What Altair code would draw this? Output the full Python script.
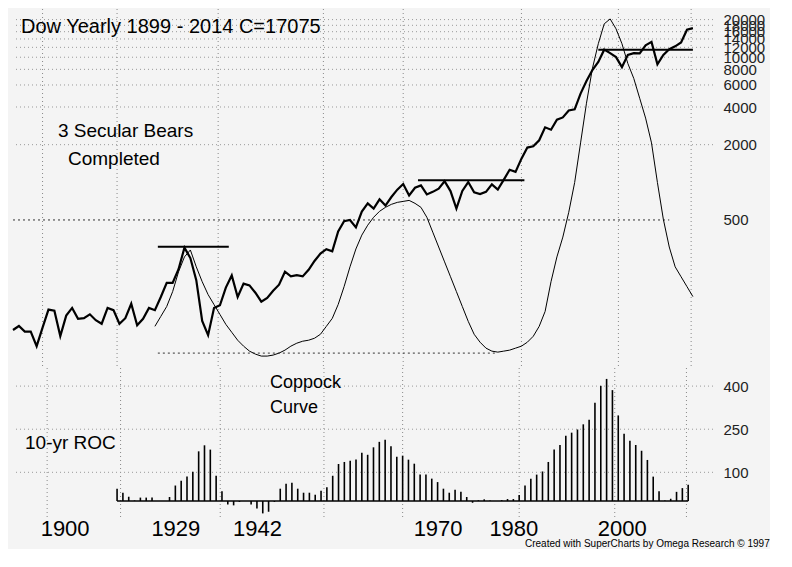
import altair as alt
import pandas as pd

FONT = "Liberation Sans"

# yearly Dow closes 1899-2014
dow_years = list(range(1899, 2015))
dow_close = [
    66, 71, 64, 64, 49, 69, 96, 94, 59, 86, 99, 81, 82, 88, 79, 74, 99, 95, 74, 82,
    107, 72, 81, 99, 95, 121, 157, 157, 202, 300, 248, 165, 78, 60, 99, 104, 144, 180,
    121, 155, 150, 131, 111, 119, 136, 152, 193, 177, 181, 177, 200, 235, 269, 292,
    281, 404, 488, 500, 436, 584, 679, 616, 731, 652, 763, 874, 969, 786, 905, 944,
    800, 839, 890, 1020, 851, 616, 852, 1005, 831, 805, 839, 964, 875, 1047, 1259,
    1212, 1547, 1896, 1939, 2169, 2753, 2634, 3169, 3301, 3754, 3834, 5117, 6448,
    7908, 9181, 11497, 10787, 10021, 8342, 10454, 10783, 10718, 12463, 13265, 8776,
    10428, 11578, 12218, 13104, 16577, 17075,
]

# Coppock curve (relative level, no axis)
cop_years = list(range(1923, 2015))
cop_level = [
    40, 50, 60, 75, 95, 110, 117, 100, 85, 72, 62, 52, 42, 34, 26, 20, 15, 12, 10, 10,
    11, 13, 16, 20, 23, 25, 26, 28, 32, 40, 48, 62, 80, 100, 118, 132, 142, 150, 156,
    160, 163, 165, 166, 167, 164, 160, 150, 135, 120, 105, 90, 75, 60, 45, 32, 24, 18,
    15, 14, 15, 16, 18, 20, 24, 30, 40, 55, 85, 110, 130, 155, 185, 225, 265, 300, 325, 345,
    350, 340, 325, 305, 290, 270, 250, 225, 185, 148, 120, 100, 90, 80, 70,
]

# 10-yr ROC bars
roc = [
    43, 29, 15, 2, 12, 12, 12, 0, 0, 14, 54, 71, 85, 102, 173, 194, 179, 88, 34, -12,
    -15, -3, 0, -12, -26, -43, -37, -3, 43, 60, 64, 43, 29, 29, 22, 36, 48, 88, 129,
    136, 140, 145, 168, 161, 187, 206, 213, 191, 154, 158, 144, 130, 92, 92, 78, 66,
    43, 29, 39, 32, 14, -6, 3, 6, 2, 0, 3, 7, 7, 21, 54, 78, 92, 103, 136, 179, 195,
    227, 238, 249, 267, 283, 342, 401, 425, 386, 298, 234, 210, 195, 175, 143, 85, 34,
    2, 8, 32, 45, 57,
]
roc_years = [2014 - len(roc) + 1 + i for i in range(len(roc))]

price_ticks = [500, 2000, 4000, 6000, 8000, 10000, 12000, 14000, 16000, 18000, 20000]
roc_ticks = [100, 250, 400]
grid_years = [1904, 1916.6, 1933.7, 1951.5, 1965, 1985, 2001.4, 2013.7]
label_pos = [1907, 1926, 1940, 1971, 1984, 2002.6]
label_txt = ["1900", "1929", "1942", "1970", "1980", "2000"]

# resistance / support lines
seg_start = [1923.5, 1967.5, 1998]
seg_end = [1935.5, 1985.5, 2014]
seg_price = [305, 1038, 11500]

dow = pd.DataFrame({"year": dow_years, "close": dow_close})
cop = pd.DataFrame({"year": cop_years, "level": cop_level})
bars = pd.DataFrame({"year": roc_years, "roc": roc})
segs = pd.DataFrame({"x": seg_start, "x2": seg_end, "p": seg_price})

xs = alt.Scale(domain=[1899, 2017.4], nice=False, zero=False)
ys = alt.Scale(type="log", domain=[34, 24300], nice=False)
cs = alt.Scale(domain=[0, 360], nice=False)
W, H1, H2 = 700, 357, 150
dots = [1, 3]

label_expr = " : ".join(
    f"abs(datum.value - {p}) < 0.01 ? '{t}'" for p, t in zip(label_pos, label_txt)
) + " : ''"

vgrid = alt.Chart(pd.DataFrame({"g": grid_years})).mark_rule(
    color="#888", strokeDash=dots, strokeWidth=1
).encode(x=alt.X("g:Q", scale=xs, axis=None))

hgrid = alt.Chart(pd.DataFrame({"p": price_ticks[1:]})).mark_rule(
    color="#999", strokeDash=dots, strokeWidth=1
).encode(
    y=alt.Y("p:Q", scale=ys,
            axis=alt.Axis(orient="right", values=price_ticks, format="d", grid=False,
                          domain=False, ticks=False, labelFont=FONT, labelFontSize=15,
                          labelColor="#222", labelPadding=10, title=None,
                          labelOverlap=False)),
)

line500 = alt.Chart(pd.DataFrame({"p": [500], "x": [1899], "x2": [2010]})).mark_rule(
    color="#333", strokeDash=[2, 3]
).encode(x=alt.X("x:Q", scale=xs, axis=None), x2="x2", y=alt.Y("p:Q", scale=ys))

price = alt.Chart(dow).mark_line(color="black", strokeWidth=2.2).encode(
    x=alt.X("year:Q", scale=xs, axis=None), y=alt.Y("close:Q", scale=ys)
)

seg = alt.Chart(segs).mark_rule(color="black", strokeWidth=2).encode(
    x=alt.X("x:Q", scale=xs, axis=None), x2="x2", y=alt.Y("p:Q", scale=ys)
)

cop_line = alt.Chart(cop).mark_line(color="black", strokeWidth=1).encode(
    x=alt.X("year:Q", scale=xs, axis=None), y=alt.Y("level:Q", scale=cs, axis=None)
)
cop_floor = alt.Chart(pd.DataFrame({"l": [13], "x": [1923.5], "x2": [1980.5]})).mark_rule(
    color="#333", strokeDash=[2, 3]
).encode(x=alt.X("x:Q", scale=xs, axis=None), x2="x2",
         y=alt.Y("l:Q", scale=cs, axis=None))


def txt(s, x, y, size):
    return alt.Chart(pd.DataFrame({"t": [s]})).mark_text(
        align="left", baseline="middle", font=FONT, fontSize=size, color="black"
    ).encode(text="t:N", x=alt.value(x), y=alt.value(y))


top = alt.layer(
    alt.layer(vgrid, hgrid, line500, price, seg),
    alt.layer(cop_line, cop_floor),
    txt("Dow Yearly 1899 - 2014 C=17075", 8, 18, 20),
    txt("3 Secular Bears", 45, 122, 19),
    txt("Completed", 55, 150, 19),
).resolve_scale(y="independent").properties(width=W, height=H1)

bs = alt.Scale(domain=[-59, 463], nice=False)
bgrid = alt.Chart(pd.DataFrame({"v": roc_ticks})).mark_rule(
    color="#999", strokeDash=dots
).encode(
    y=alt.Y("v:Q", scale=bs,
            axis=alt.Axis(orient="right", values=roc_ticks, grid=False, domain=False,
                          ticks=False, labelFont=FONT, labelFontSize=15,
                          labelColor="#222", labelPadding=10, title=None))
)
bar = alt.Chart(bars).mark_bar(color="black", size=1.6).encode(
    x=alt.X("year:Q", scale=xs,
            axis=alt.Axis(values=label_pos, labelExpr=label_expr, grid=False,
                          domain=False, ticks=False, labelFont=FONT, labelFontSize=22,
                          labelColor="black", labelPadding=0, title=None,
                          labelOverlap=False)),
    y=alt.Y("roc:Q", scale=bs), y2=alt.datum(0),
)
zero = alt.Chart(pd.DataFrame({"x": [roc_years[0]], "x2": [2014], "v": [0]})).mark_rule(
    color="black", strokeWidth=1.5
).encode(x=alt.X("x:Q", scale=xs), x2="x2", y=alt.Y("v:Q", scale=bs))

bottom = alt.layer(
    alt.Chart(pd.DataFrame({"g": grid_years})).mark_rule(
        color="#888", strokeDash=dots).encode(x=alt.X("g:Q", scale=xs)),
    bgrid, bar, zero,
    txt("Coppock", 257, 15, 18),
    txt("Curve", 257, 40, 18),
    txt("10-yr ROC", 12, 75, 19),
).properties(width=W, height=H2)

credit = alt.Chart(pd.DataFrame({"t": ["Created with SuperCharts by Omega Research © 1997"]})).mark_text(
    align="left", font=FONT, fontSize=10, color="black"
).encode(text="t:N", x=alt.value(512), y=alt.value(0)).properties(width=W, height=5)

chart = alt.vconcat(top, bottom, credit, spacing=0).properties(
    background="#f4f4f4", padding={"left": 0, "top": 0, "right": 0, "bottom": 0}
).configure_view(stroke=None).configure_concat(spacing=0)

chart.save("out.html", embed_options={"renderer": "svg", "actions": False})
